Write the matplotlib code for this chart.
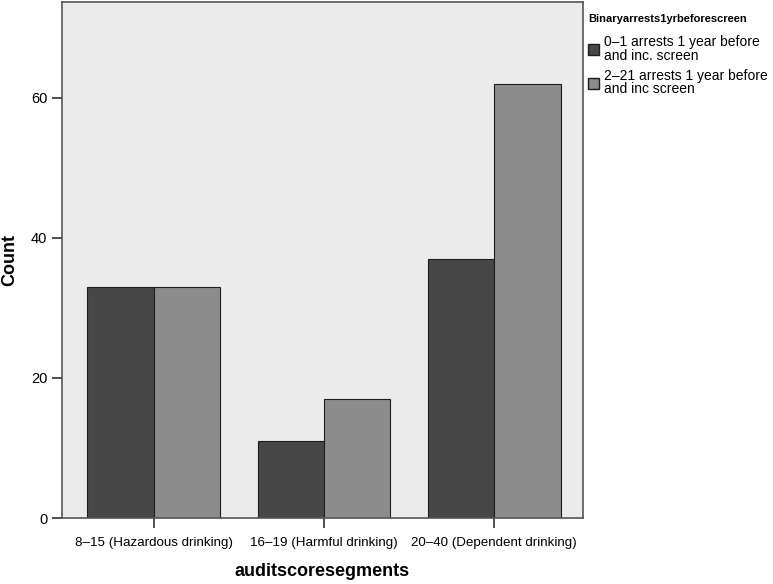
import numpy as np
import matplotlib.pyplot as plt
from matplotlib.patches import Patch

categories = ["8\u201315 (Hazardous drinking)", "16\u201319 (Harmful drinking)", "20\u201340 (Dependent drinking)"]
series_names = ["0\u20131 arrests 1 year before\nand inc. screen", "2\u201321 arrests 1 year before\nand inc screen"]
low_arrests = [33, 11, 37]
high_arrests = [33, 17, 62]

plt.rcParams['font.family'] = ['Liberation Sans', 'DejaVu Sans']

fig = plt.figure(figsize=(7.73, 5.84), dpi=100)
ax = fig.add_axes([0.080, 0.113, 0.674, 0.884])
ax.set_facecolor('#ebebeb')

x = np.arange(len(categories))
w = 0.39
ax.bar(x - w / 2, low_arrests, w, color='#474747', edgecolor='#1e1e1e', linewidth=0.8)
ax.bar(x + w / 2, high_arrests, w, color='#8c8c8c', edgecolor='#1e1e1e', linewidth=0.8)

ax.set_xlim(-0.54, 2.52)
ax.set_ylim(0, 73.7)
ax.set_yticks([0, 20, 40, 60])
ax.set_xticks(x)
ax.set_xticklabels(categories, fontsize=9.6)
ax.tick_params(axis='both', direction='out', length=7, width=1.2, color='#333333', labelsize=10.5)
ax.tick_params(axis='x', pad=7, labelsize=9.6)
for s in ax.spines.values():
    s.set_color('#555555')
    s.set_linewidth(1.2)

ax.set_ylabel("Count", fontsize=13, fontweight='bold')
ax.yaxis.set_label_coords(-0.083, 0.5)
ax.set_xlabel("auditscoresegments", fontsize=13, fontweight='bold', labelpad=10)

handles = [Patch(facecolor='#474747', edgecolor='#1e1e1e'), Patch(facecolor='#8c8c8c', edgecolor='#1e1e1e')]
leg = fig.legend(handles, series_names, loc='upper left', bbox_to_anchor=(0.746, 0.995),
                 frameon=False, fontsize=10, title="Binaryarrests1yrbeforescreen",
                 title_fontsize=8, handlelength=0.8, handleheight=0.9, handletextpad=0.4,
                 labelspacing=0.45, borderaxespad=0.4)
leg.get_title().set_fontweight('bold')
for t in leg.get_texts():
    t.set_linespacing(0.95)
leg._legend_box.align = 'left'
leg._legend_box.sep = 8

fig.savefig("out.png", dpi=100)
